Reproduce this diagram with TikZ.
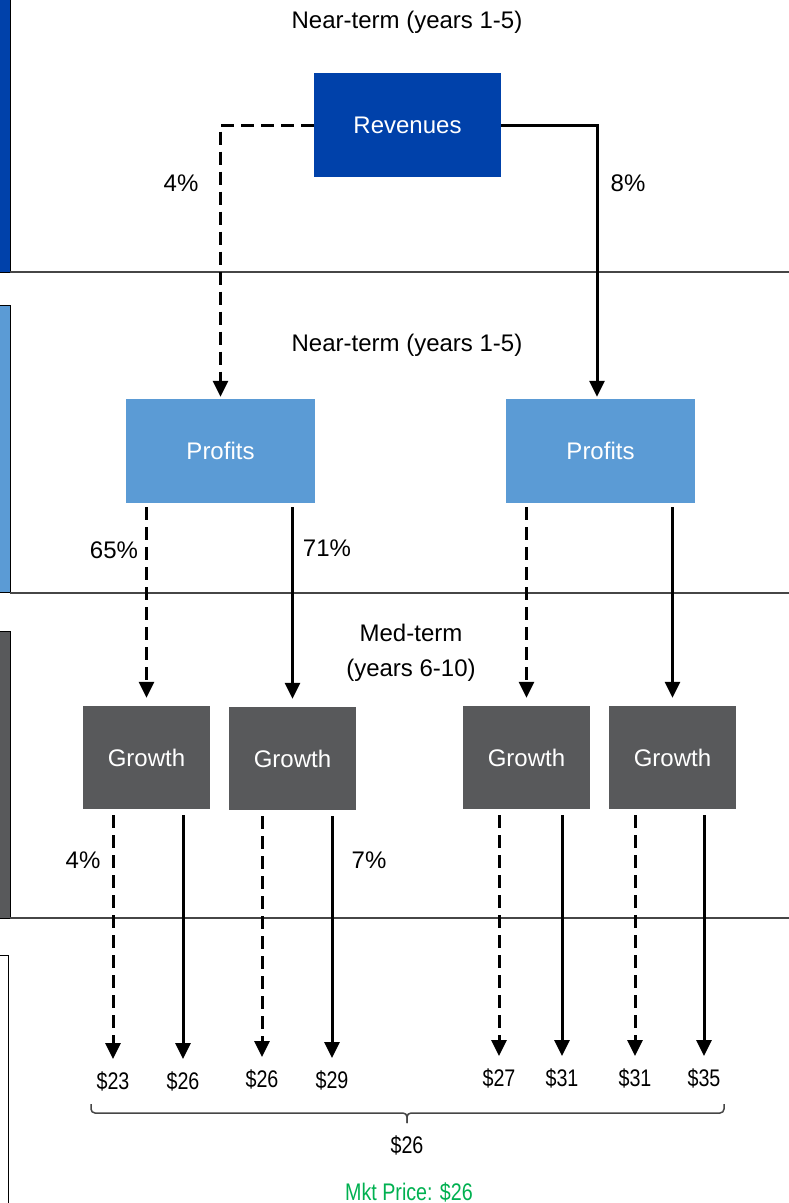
\documentclass[tikz,border=0pt]{standalone}
\usepackage{fontspec}
\setmainfont{Liberation Sans}
\newfontfamily\narrowfont[FakeStretch=0.82]{Liberation Sans}
\usepackage{xcolor}
\usepackage{tikz}
\usetikzlibrary{arrows.meta,positioning,calc}

\definecolor{revblue}{RGB}{0,65,170}
\definecolor{profblue}{RGB}{91,155,213}
\definecolor{growgray}{RGB}{88,89,91}
\definecolor{sepgray}{RGB}{70,70,70}
\definecolor{mktgreen}{RGB}{0,176,80}

\begin{document}
\begin{tikzpicture}[x=1pt, y=-1pt,
    box/.style={rectangle, inner sep=0pt, text=white, font=\fontsize{24}{28}\selectfont},
    revbox/.style={box, fill=revblue, minimum width=187pt, minimum height=104pt},
    profbox/.style={box, fill=profblue, minimum width=189pt, minimum height=104pt},
    growbox/.style={box, fill=growgray, minimum width=127pt, minimum height=103pt},
    lbl/.style={inner sep=0pt, font=\fontsize{24}{35}\selectfont},
    price/.style={inner sep=0pt, font=\narrowfont\fontsize{24}{28}\selectfont},
    solidarrow/.style={line width=3pt, -{Triangle[width=15pt,length=16pt]}, shorten >=2pt},
    dasharrow/.style={solidarrow, dash pattern=on 13pt off 7pt},
    sep/.style={sepgray, line width=1.5pt},
    sidebar/.style={draw=black, line width=1pt}]

    \useasboundingbox (0,0) rectangle (789,1203);

    % Side bars and row separators
    \draw[sidebar, fill=revblue] (-2,-2) rectangle (10,272);
    \draw[sidebar, fill=profblue] (-2,305) rectangle (10,592);
    \draw[sidebar, fill=growgray] (-2,631) rectangle (10,918);
    \draw[sidebar, fill=white] (-2,955) rectangle (8,1210);
    \draw[sep] (10,272) -- (789,272);
    \draw[sep] (10,593) -- (789,593);
    \draw[sep] (10,918) -- (789,918);

    % Row titles
    \node[lbl] (near1) at (407,22) {Near-term (years 1-5)};
    \node[lbl] (near2) at (407,345) {Near-term (years 1-5)};
    \node[lbl, align=center] (med) at (411,653) {Med-term\\(years 6-10)};

    % Boxes
    \node[revbox] (rev) at (407.5,125) {Revenues};
    \node[profbox] (pl) at (220.5,451) {Profits};
    \node[profbox] (pr) at (600.5,451) {Profits};
    \node[growbox] (g1) at (146.5,757.5) {Growth};
    \node[growbox] (g2) at (292.5,758.5) {Growth};
    \node[growbox] (g3) at (526.5,757.5) {Growth};
    \node[growbox] (g4) at (672.5,757.5) {Growth};

    % Values
    \node[price] (v1) at (113,1081) {\$23};
    \node[price] (v2) at (183,1081) {\$26};
    \node[price] (v3) at (262,1079) {\$26};
    \node[price] (v4) at (332,1080) {\$29};
    \node[price] (v5) at (499,1078) {\$27};
    \node[price] (v6) at (562,1078) {\$31};
    \node[price] (v7) at (635,1078) {\$31};
    \node[price] (v8) at (704,1078) {\$35};

    % Revenues to profits
    \draw[dasharrow] (rev.west) -| (pl.north);
    \draw[solidarrow] (rev.east) -| ([xshift=-3.5pt]pr.north);
    \node[lbl] (r4) at (181,183) {4\%};
    \node[lbl] (r8) at (628,183) {8\%};

    % Profits to growth
    \draw[dasharrow, shorten <=4pt, shorten >=8pt] (g1.north |- pl.south) -- (g1.north);
    \draw[solidarrow, shorten <=4pt, shorten >=8pt] (g2.north |- pl.south) -- (g2.north);
    \draw[dasharrow, shorten <=4pt, shorten >=8pt] (g3.north |- pr.south) -- (g3.north);
    \draw[solidarrow, shorten <=4pt, shorten >=8pt] (g4.north |- pr.south) -- (g4.north);
    \node[lbl] (p65) at (114,550) {65\%};
    \node[lbl] (p71) at (327,548) {71\%};

    % Growth to values
    \foreach \g/\a/\b in {g1/v1/v2, g2/v3/v4, g3/v5/v6, g4/v7/v8} {
        \draw[dasharrow, shorten <=6pt, shorten >=12pt] (\a |- \g.south) -- (\a.north);
        \draw[solidarrow, shorten <=6pt, shorten >=12pt] (\b |- \g.south) -- (\b.north);
    }
    \node[lbl] (q4) at (83,860) {4\%};
    \node[lbl] (q7) at (369,860) {7\%};

    % Average and market price
    \coordinate (bl) at (91,1104);
    \coordinate (br) at (724,1104);
    \coordinate (bm) at (407,1104);
    \draw[sepgray, line width=1.5pt, rounded corners=4pt]
        (bl) -- ($(bl)+(0,9)$) -- ($(bm)+(0,9)$) -- ($(bm)+(0,19)$);
    \draw[sepgray, line width=1.5pt, rounded corners=4pt]
        (br) -- ($(br)+(0,9)$) -- ($(bm)+(0,9)$) -- ($(bm)+(0,19)$);
    \node[price] (avg) at (407,1145) {\$26};
    \node[price, text=mktgreen] (mkt) at (409,1192) {Mkt Price: \$26};

\end{tikzpicture}
\end{document}
